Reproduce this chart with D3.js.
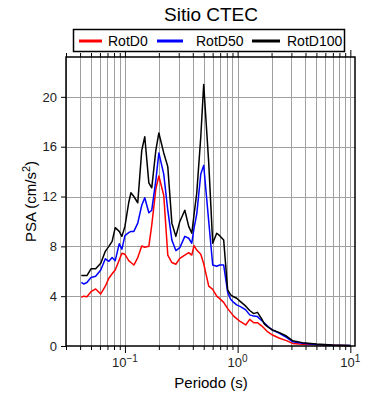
<!DOCTYPE html>
<html>
<head>
<meta charset="utf-8">
<script src="https://cdn.jsdelivr.net/npm/d3@7"></script>
<style>
  body { margin: 0; background: #fff; }
  text { font-family: "Liberation Sans", Arial, sans-serif; }
</style>
</head>
<body>
<svg id="chart" width="390" height="400"></svg>
<script>
// periodos (s)
var periods = [0.041, 0.043, 0.046, 0.050, 0.055, 0.061, 0.067, 0.072, 0.077, 0.082,
  0.089, 0.094, 0.10, 0.108, 0.113, 0.120, 0.130, 0.141, 0.150, 0.163,
  0.173, 0.188, 0.200, 0.221, 0.240, 0.261, 0.283, 0.307, 0.340, 0.368,
  0.392, 0.41, 0.434, 0.471, 0.500, 0.554, 0.601, 0.652, 0.693, 0.752,
  0.816, 0.867, 0.922, 0.980, 1.06, 1.18, 1.28, 1.39, 1.50, 1.63,
  1.73, 1.84, 2.04, 2.35, 2.71, 3.07, 3.76, 5.0, 6.93, 10.0];

var rotD0 = [3.9, 4.0, 3.96, 4.36, 4.58, 4.18, 4.8, 5.44, 5.8, 6.1,
  6.9, 7.45, 7.36, 6.85, 6.7, 6.5, 7.1, 8.03, 7.93, 8.0,
  9.7, 12.6, 13.65, 12.1, 7.3, 6.7, 6.56, 7.04, 7.3, 7.5,
  7.3, 8.06, 7.7, 7.36, 6.6, 4.8, 4.55, 4.0, 3.8, 3.5,
  3.0, 2.7, 2.4, 2.2, 1.95, 1.69, 2.14, 1.87, 1.87, 1.62,
  1.4, 1.15, 0.88, 0.62, 0.43, 0.21, 0.15, 0.1, 0.06, 0.03];

var rotD50 = [5.1, 4.98, 5.1, 5.5, 5.6, 6.1, 7.0, 6.8, 7.1, 6.85,
  8.2, 7.77, 8.86, 9.1, 9.2, 9.2, 9.86, 11.3, 11.9, 10.7,
  10.9, 13.3, 15.5, 13.8, 10.9, 8.5, 7.66, 7.9, 8.8, 8.65,
  8.25, 9.45, 10.6, 13.8, 14.5, 10.0, 6.5, 6.4, 6.5, 6.5,
  4.3, 3.75, 3.5, 3.3, 3.16, 2.9, 2.5, 2.4, 2.36, 2.05,
  1.85, 1.6, 1.28, 1.02, 0.7, 0.35, 0.22, 0.13, 0.07, 0.04];

var rotD100 = [5.65, 5.65, 5.65, 6.2, 6.2, 6.64, 7.6, 8.0, 8.4, 9.5,
  9.2, 8.8, 9.6, 11.5, 12.3, 12.0, 11.5, 15.7, 16.8, 13.1,
  12.7, 15.7, 17.1, 15.5, 14.4, 9.86, 8.8, 10.0, 10.9, 9.6,
  9.05, 10.5, 12.3, 16.8, 21.0, 14.7, 8.25, 9.05, 8.86, 8.5,
  4.5, 4.1, 3.95, 3.83, 3.56, 3.2, 2.85, 2.6, 2.7, 2.2,
  1.75, 1.55, 1.28, 1.07, 0.8, 0.43, 0.27, 0.16, 0.08, 0.05];

var seriesNames = ['RotD0', 'RotD50', 'RotD100'];
var seriesColors = ['#ff0000', '#0000ff', '#000000'];
var yTicks = [0, 4, 8, 12, 16, 20];
var xDecades = [0.1, 1, 10];
var xExponents = ['\u22121', '0', '1'];

var W = 390, H = 400;
var m = {left: 66, right: 35, top: 57, bottom: 54};

var svg = d3.select('#chart');

var x = d3.scaleLog().domain([0.03, 11]).range([m.left, W - m.right]);
var y = d3.scaleLinear().domain([0, 23.2]).range([H - m.bottom, m.top]);

/*все позиции логарифмической сетки*/
var minor = [];
[0.01, 0.1, 1, 10].forEach(function(d) {
  for (var k = 1; k < 10; k++) {
    var v = d * k;
    if (v >= 0.03 && v <= 11) minor.push(v);
  }
});

// сетка
var grid = svg.append('g').attr('stroke', '#a0a0a0').attr('stroke-width', 1);
grid.selectAll('line.v').data(minor).enter().append('line')
  .attr('x1', function(d) { return Math.round(x(d)) + 0.5; })
  .attr('x2', function(d) { return Math.round(x(d)) + 0.5; })
  .attr('y1', m.top).attr('y2', H - m.bottom);
grid.selectAll('line.h').data(yTicks.slice(1)).enter().append('line')
  .attr('x1', m.left).attr('x2', W - m.right)
  .attr('y1', function(d) { return Math.round(y(d)) + 0.5; })
  .attr('y2', function(d) { return Math.round(y(d)) + 0.5; });

// линии
var line = d3.line()
  .x(function(d) { return x(d[0]); })
  .y(function(d) { return y(d[1]); });

[rotD0, rotD50, rotD100].forEach(function(vals, i) {
  svg.append('path')
    .datum(periods.map(function(p, j) { return [p, vals[j]]; }))
    .attr('fill', 'none')
    .attr('stroke', seriesColors[i])
    .attr('stroke-width', 1.5)
    .attr('stroke-linejoin', 'round')
    .attr('d', line);
});

// рамка
svg.append('rect')
  .attr('x', m.left).attr('y', m.top)
  .attr('width', W - m.right - m.left).attr('height', H - m.bottom - m.top)
  .attr('fill', 'none').attr('stroke', '#000').attr('stroke-width', 1.5);

// оси
function isDecade(d) { return Math.abs(Math.log10(d) - Math.round(Math.log10(d))) < 1e-6; }

var xb = d3.axisBottom(x).tickValues(minor).tickFormat('')
  .tickSizeInner(4).tickSizeOuter(0);
var gxb = svg.append('g').attr('transform', 'translate(0,' + (H - m.bottom) + ')').call(xb);
var gxt = svg.append('g').attr('transform', 'translate(0,' + m.top + ')')
  .call(d3.axisTop(x).tickValues(minor).tickFormat('').tickSizeInner(4).tickSizeOuter(0));
[gxb, gxt].forEach(function(g) {
  g.select('.domain').remove();
  g.selectAll('.tick line').attr('stroke', '#000').attr('stroke-width', 1)
    .attr('y2', function(d) {
      var s = isDecade(d) ? 7 : 4;
      return g === gxb ? s : -s;
    });
});

var gy = svg.append('g').attr('transform', 'translate(' + m.left + ',0)')
  .call(d3.axisLeft(y).tickValues(yTicks).tickSizeInner(5).tickSizeOuter(0).tickPadding(4));
gy.select('.domain').remove();
gy.selectAll('.tick line').attr('stroke', '#000');
gy.selectAll('.tick text').attr('font-size', 13).attr('fill', '#222')
  .attr('font-family', '"Liberation Sans", Arial, sans-serif');

// подписи декад
var xl = svg.append('g');
xDecades.forEach(function(d, i) {
  var t = xl.append('text').attr('x', x(d)).attr('y', 367)
    .attr('text-anchor', 'middle').attr('font-size', 13).attr('fill', '#222');
  t.append('tspan').text('10');
  t.append('tspan').attr('dy', -5).attr('font-size', 10).text(xExponents[i]);
});

// заголовки
svg.append('text').attr('x', 211).attr('y', 21).attr('text-anchor', 'middle')
  .attr('font-size', 19).text('Sitio CTEC');
svg.append('text').attr('x', 211).attr('y', 388).attr('text-anchor', 'middle')
  .attr('font-size', 15).text('Periodo (s)');
var yl = svg.append('text').attr('transform', 'translate(36,' + ((m.top + H - m.bottom) / 2) + ') rotate(-90)')
  .attr('text-anchor', 'middle').attr('font-size', 15);
yl.append('tspan').text('PSA (cm/s');
yl.append('tspan').attr('dy', -6).attr('font-size', 11).text('2');
yl.append('tspan').attr('dy', 6).text(')');

// легенда
var lg = svg.append('g');
lg.append('rect').attr('x', 73.5).attr('y', 29.5).attr('width', 271).attr('height', 22)
  .attr('fill', '#fff').attr('stroke', '#000').attr('stroke-width', 1.5);
var legLine = [[79, 102], [157, 183], [252, 280]];
var legText = [108, 196, 287];
seriesNames.forEach(function(n, i) {
  lg.append('line').attr('x1', legLine[i][0]).attr('x2', legLine[i][1])
    .attr('y1', 41).attr('y2', 41)
    .attr('stroke', seriesColors[i]).attr('stroke-width', 3);
  lg.append('text').attr('x', legText[i]).attr('y', 46)
    .attr('font-size', 14).text(n);
});
</script>
</body>
</html>
